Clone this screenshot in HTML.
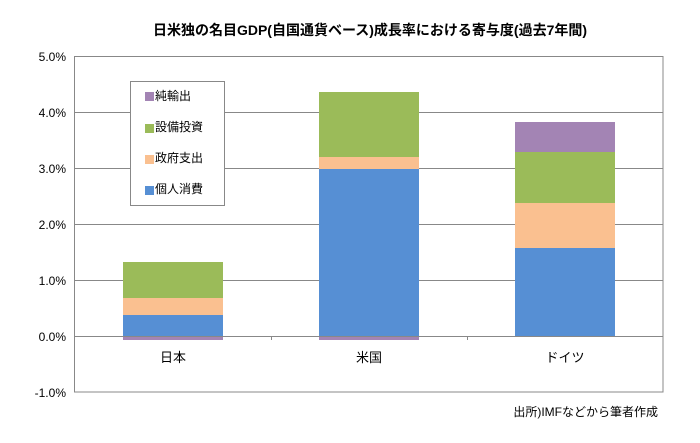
<!DOCTYPE html>
<html><head><meta charset="utf-8"><style>
body{margin:0;background:#fff;}
text{font-family:"Liberation Sans","Noto Sans CJK JP",sans-serif;}
</style></head><body>
<svg width="700" height="438" xmlns="http://www.w3.org/2000/svg">
<rect width="700" height="438" fill="#fff"/>
<text x="370" y="35" font-size="14" font-weight="bold" text-anchor="middle" fill="#000">日米独の名目GDP(自国通貨ベース)成長率における寄与度(過去7年間)</text>
<g stroke="#888" stroke-width="1">
<line x1="74" y1="56.5" x2="663" y2="56.5"/>
<line x1="74" y1="112.5" x2="663" y2="112.5"/>
<line x1="74" y1="168.5" x2="663" y2="168.5"/>
<line x1="74" y1="224.5" x2="663" y2="224.5"/>
<line x1="74" y1="280.5" x2="663" y2="280.5"/>
</g>
<g font-size="12" fill="#000" text-anchor="end">
<text x="66" y="61">5.0%</text><text x="66" y="117">4.0%</text><text x="66" y="173">3.0%</text>
<text x="66" y="229">2.0%</text><text x="66" y="285">1.0%</text><text x="66" y="341">0.0%</text>
<text x="66" y="397">-1.0%</text>
</g>
<!-- Japan -->
<rect x="123" y="336" width="100" height="4" fill="#a384b4"/>
<rect x="123" y="315" width="100" height="21" fill="#568fd4"/>
<rect x="123" y="298" width="100" height="17" fill="#fac090"/>
<rect x="123" y="262" width="100" height="36" fill="#9bbb59"/>
<!-- US -->
<rect x="319" y="336" width="100" height="4" fill="#a384b4"/>
<rect x="319" y="169" width="100" height="167" fill="#568fd4"/>
<rect x="319" y="157" width="100" height="12" fill="#fac090"/>
<rect x="319" y="92" width="100" height="65" fill="#9bbb59"/>
<!-- Germany -->
<rect x="515" y="248" width="100" height="88" fill="#568fd4"/>
<rect x="515" y="203" width="100" height="45" fill="#fac090"/>
<rect x="515" y="152" width="100" height="51" fill="#9bbb59"/>
<rect x="515" y="122" width="100" height="30" fill="#a384b4"/>
<line x1="74" y1="336.5" x2="663" y2="336.5" stroke="#888"/>
<line x1="271.5" y1="336" x2="271.5" y2="340" stroke="#888"/>
<line x1="467.5" y1="336" x2="467.5" y2="340" stroke="#888"/>
<rect x="74.5" y="56.5" width="588.5" height="335.5" fill="none" stroke="#888"/>
<g font-size="13" fill="#000" text-anchor="middle">
<text x="173" y="362">日本</text><text x="369" y="362">米国</text><text x="565" y="362">ドイツ</text>
</g>
<rect x="130.5" y="81.5" width="94" height="124" fill="#fff" stroke="#888"/>
<rect x="145" y="92" width="9" height="9" fill="#a384b4"/>
<rect x="145" y="124" width="9" height="9" fill="#9bbb59"/>
<rect x="145" y="155" width="9" height="9" fill="#fac090"/>
<rect x="145" y="186" width="9" height="9" fill="#568fd4"/>
<g font-size="12" fill="#000">
<text x="155" y="100">純輸出</text><text x="155" y="131">設備投資</text>
<text x="155" y="162">政府支出</text><text x="155" y="193">個人消費</text>
</g>
<text x="658" y="416" font-size="12" text-anchor="end" fill="#000">出所)IMFなどから筆者作成</text>
</svg>
</body></html>
